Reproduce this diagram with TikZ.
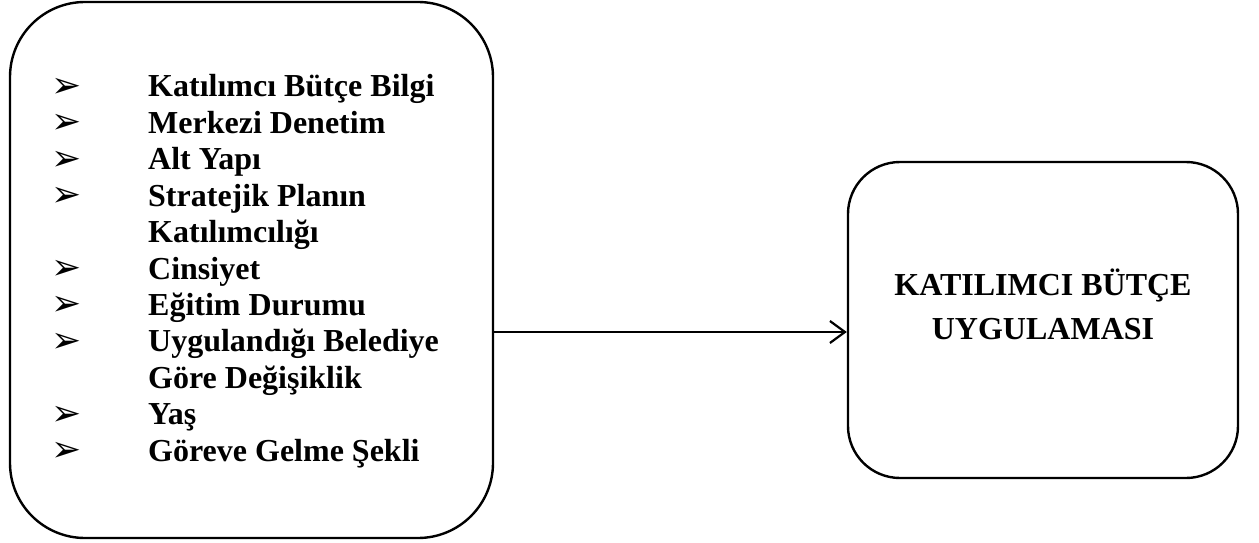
\documentclass[tikz,border=0pt]{standalone}
\usepackage{fontspec}
\setmainfont{Liberation Serif}
\newfontfamily\dejavu{DejaVu Sans}
\usetikzlibrary{arrows.meta}
\tikzset{
  roundbox/.style={draw=black, line width=2.4pt, rounded corners=#1, inner sep=0pt},
  itemtext/.style={anchor=base west, inner sep=0pt, font=\fontsize{32}{36}\selectfont\bfseries},
  bullet/.style={anchor=center, inner sep=0pt, font=\fontsize{36}{40}\selectfont\dejavu},
  conn/.style={line width=2.2pt, -{Straight Barb[length=15pt,width=22pt,line width=2.2pt]}}
}
\begin{document}
\begin{tikzpicture}[x=1pt,y=1pt]
\useasboundingbox (0,0) rectangle (1259,542);
% left box
\node[roundbox=75pt, minimum width=483pt, minimum height=536pt] (lbox) at (251.5,272) {};
% right box
\node[roundbox=52pt, minimum width=390pt, minimum height=316pt] (rbox) at (1043,222) {};
% list items
\foreach \i/\t/\b in {0/Katılımcı Bütçe Bilgi/1, 1/Merkezi Denetim/1, 2/Alt Yapı/1, 3/Stratejik Planın/1, 4/Katılımcılığı/0, 5/Cinsiyet/1, 6/Eğitim Durumu/1, 7/Uygulandığı Belediye/1, 8/Göre Değişiklik/0, 9/Yaş/1, 10/Göreve Gelme Şekli/1}{
  \node[itemtext] (item\i) at (148, 445-36.4*\i) {\t};
  \ifnum\b=1
    \node[bullet] (bul\i) at (67, 454-36.4*\i) {➢};
  \fi
}
% right text
\node[align=center, inner sep=0pt, font=\fontsize{32}{44}\selectfont\bfseries] (rtext) at (1043,238) {KATILIMCI BÜTÇE\\UYGULAMASI};
% connector
\draw[conn] (lbox.east |- 0,210) coordinate (cs) -- (rbox.west |- cs);
\end{tikzpicture}
\end{document}
